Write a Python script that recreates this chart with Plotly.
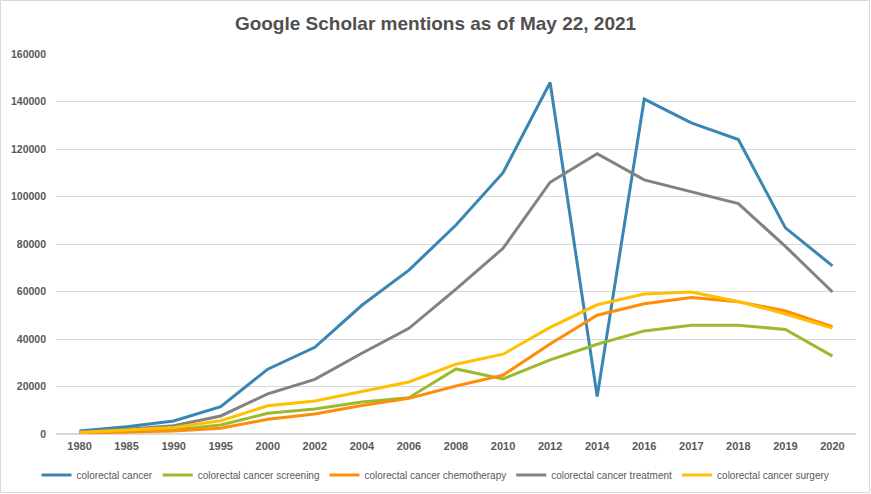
import plotly.graph_objects as go

years = ["1980", "1985", "1990", "1995", "2000", "2002", "2004", "2006", "2008",
         "2010", "2012", "2014", "2016", "2017", "2018", "2019", "2020"]

colorectal_cancer = [1300, 3100, 5500, 11500, 27300, 36500, 54200, 69000, 88000,
                     110000, 148000, 15800, 141000, 131000, 124000, 86800, 70800]
screening = [500, 1000, 1700, 3800, 8700, 10500, 13500, 15300, 27400,
             23200, 31200, 37800, 43400, 45800, 45800, 44000, 32800]
chemotherapy = [400, 800, 1300, 2400, 6200, 8400, 12000, 15000, 20200,
                24800, 37900, 50000, 54800, 57500, 55700, 51800, 45200]
treatment = [1000, 2000, 3500, 7600, 16900, 23000, 34000, 44500, 61000,
             78200, 106000, 118000, 107000, 102000, 97000, 79000, 59800]
surgery = [600, 1500, 2700, 5600, 11900, 13900, 17800, 21900, 29400,
           33600, 44900, 54400, 58900, 59800, 55800, 50500, 44600]

series = [
    ("colorectal cancer", colorectal_cancer, "#3A86B2"),
    ("colorectal cancer screening", screening, "#9BBB2D"),
    ("colorectal cancer chemotherapy", chemotherapy, "#FF8C0A"),
    ("colorectal cancer treatment", treatment, "#828282"),
    ("colorectal cancer surgery", surgery, "#FFC000"),
]

FONT = "Liberation Sans, Arial, sans-serif"
TXT = "#595959"

fig = go.Figure()
for name, vals, col in series:
    fig.add_trace(go.Scatter(x=years, y=vals, name=name, mode="lines",
                             line=dict(color=col, width=3)))

W, H = 871, 494
ml, mr, mt, mb = 56, 15, 54, 60
pw, ph = W - ml - mr, H - mt - mb

fig.update_layout(
    width=W, height=H,
    margin=dict(l=ml, r=mr, t=mt, b=mb, autoexpand=False),
    paper_bgcolor="white", plot_bgcolor="white",
    title=dict(text="<b>Google Scholar mentions as of May 22, 2021</b>",
               x=0.5, xanchor="center", y=0.953, yanchor="middle",
               font=dict(family=FONT, size=19, color="#505050")),
    xaxis=dict(type="category", range=[-0.5, 16.5], showgrid=False, zeroline=False,
               showline=False, ticks="",
               tickfont=dict(family=FONT, size=11, color=TXT, weight="bold"),
               ticklabelstandoff=4),
    yaxis=dict(range=[0, 160000], dtick=20000, showgrid=True, gridcolor="#D9D9D9",
               gridwidth=1, zeroline=True, zerolinecolor="#D9D9D9", showline=False,
               tickformat="d", ticks="",
               tickfont=dict(family=FONT, size=10.5, color=TXT, weight="bold"),
               ticklabelstandoff=9),
    legend=dict(orientation="h", x=0.5, xanchor="center", xref="container",
                y=1 - 475 / 494, yanchor="middle", yref="container",
                font=dict(family=FONT, size=10, color=TXT),
                itemwidth=30, tracegroupgap=0),
    showlegend=True,
)

fig.add_shape(type="rect", xref="paper", yref="paper",
              x0=-(ml - 0.5) / pw, x1=1 + (mr - 1.5) / pw,
              y0=-(mb - 1.5) / ph, y1=1 + (mt - 0.5) / ph,
              line=dict(color="#D9D9D9", width=1), fillcolor="rgba(0,0,0,0)",
              layer="below")

fig.write_html("out.html", config={"displayModeBar": False},
               post_script="document.body.style.margin='0';document.body.style.overflow='hidden';")
